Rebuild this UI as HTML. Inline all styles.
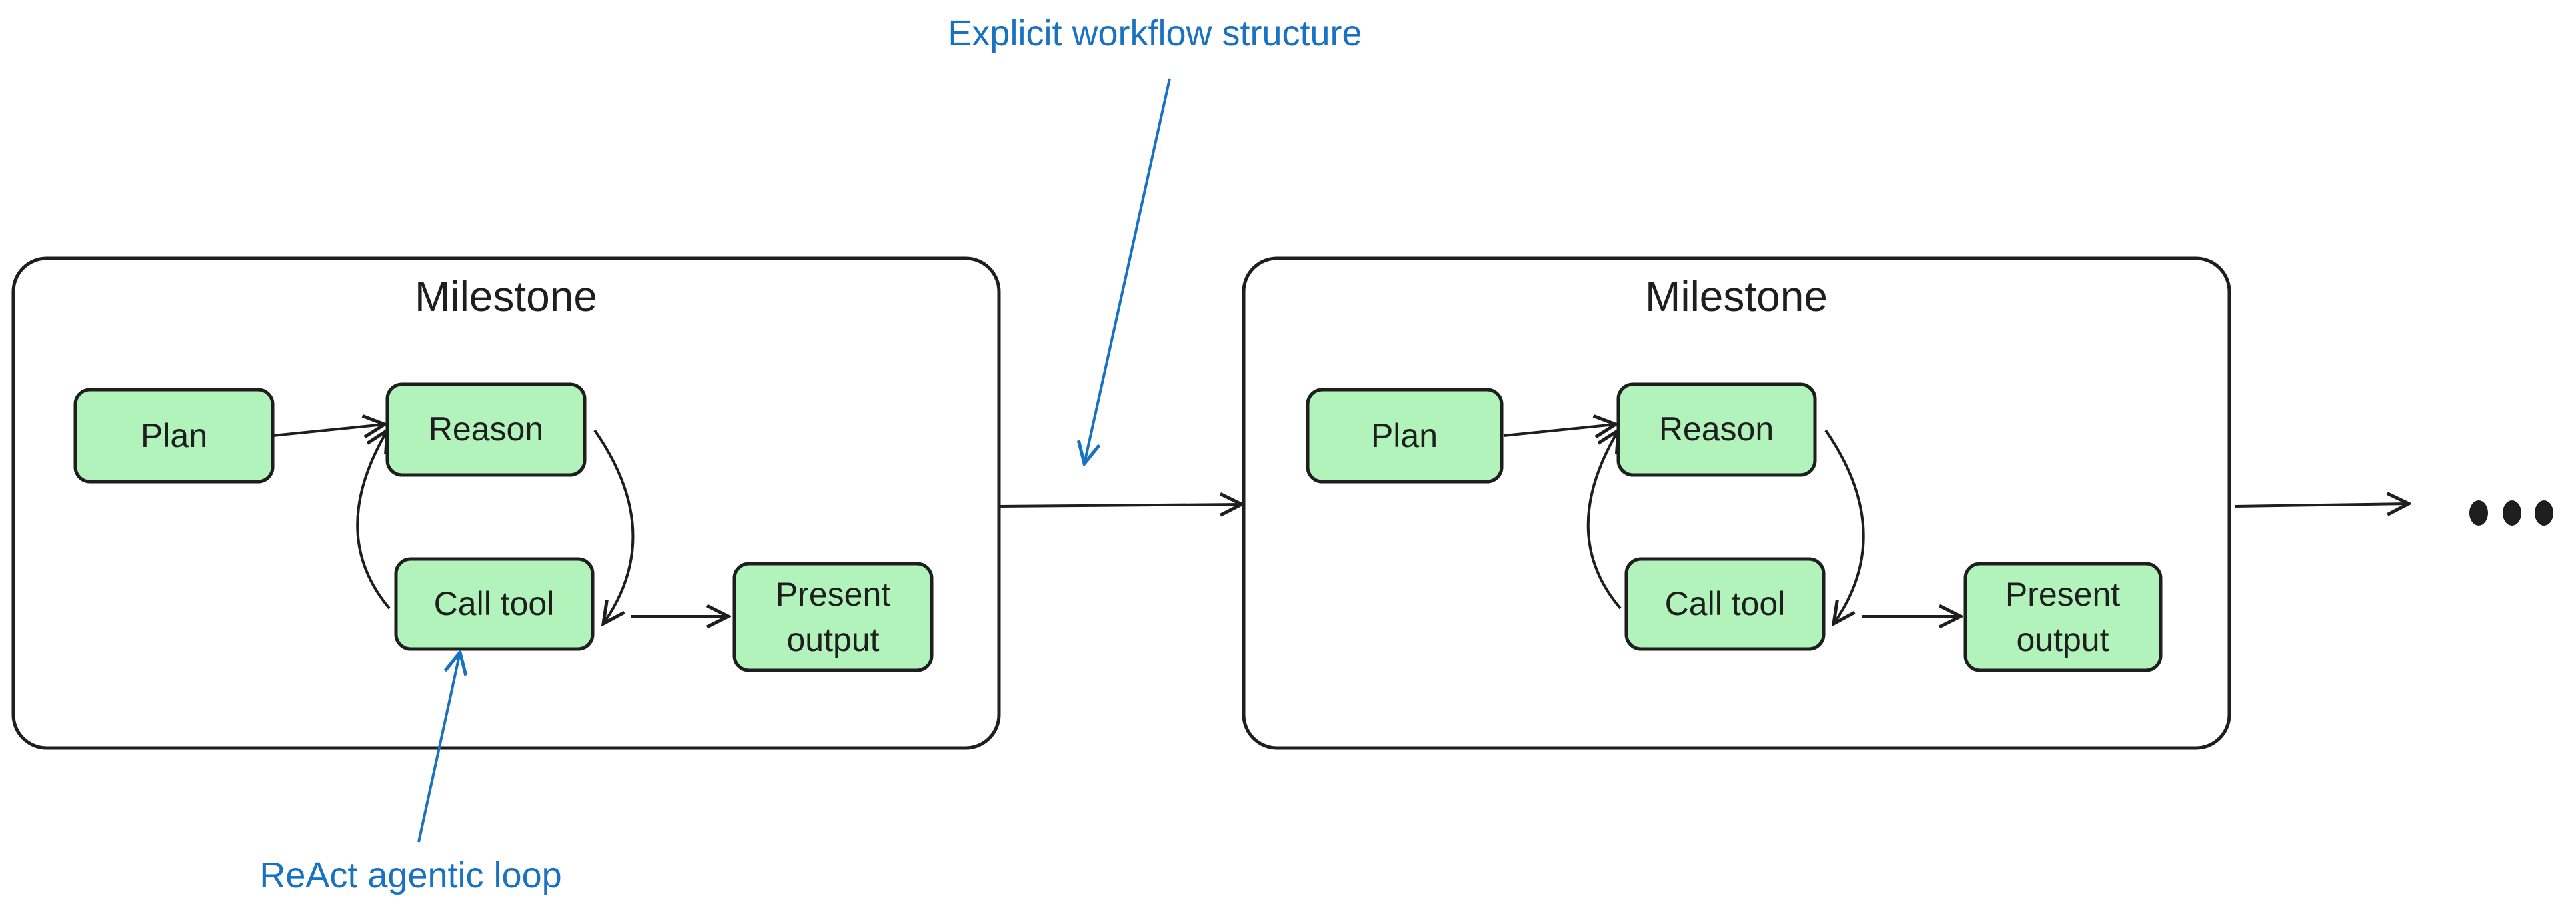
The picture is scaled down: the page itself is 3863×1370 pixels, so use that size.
<!DOCTYPE html>
<html><head><meta charset="utf-8"><style>
html,body{margin:0;padding:0;background:#fff;}
svg{display:block;}
text{font-family:"Liberation Sans",sans-serif;}
</style></head><body>
<svg width="3863" height="1370" viewBox="0 0 3863 1370" xmlns="http://www.w3.org/2000/svg">
<defs>
<marker id="ah" viewBox="0 0 20 20" refX="18" refY="10" markerWidth="40" markerHeight="40" markerUnits="userSpaceOnUse" orient="auto">
<path d="M2 2 L18 10 L2 18" fill="none" stroke="#1e1e1e" stroke-width="2.5"/>
</marker>
<marker id="ahb" viewBox="0 0 20 20" refX="18" refY="10" markerWidth="40" markerHeight="40" markerUnits="userSpaceOnUse" orient="auto">
<path d="M2 2 L18 10 L2 18" fill="none" stroke="#1971c2" stroke-width="2.5"/>
</marker>
</defs>
<g fill="none" stroke="#1e1e1e" stroke-width="5">
<rect x="20" y="387" width="1478" height="734" rx="50"/>
<rect x="1865" y="387" width="1478" height="734" rx="50"/>
</g>
<g fill="#b2f2bb" stroke="#1e1e1e" stroke-width="5">
<rect x="113" y="584" width="296" height="138" rx="22"/>
<rect x="581" y="576" width="296" height="136" rx="22"/>
<rect x="594" y="838" width="295" height="135" rx="22"/>
<rect x="1101" y="845" width="296" height="160" rx="22"/>
<rect x="1961" y="584" width="291" height="138" rx="22"/>
<rect x="2427" y="576" width="295" height="136" rx="22"/>
<rect x="2439" y="838" width="296" height="135" rx="22"/>
<rect x="2947" y="845" width="293" height="160" rx="22"/>
</g>
<g fill="#1e1e1e" font-size="64" text-anchor="middle">
<text x="759" y="466">Milestone</text>
<text x="2604" y="466">Milestone</text>
</g>
<g fill="#1e1e1e" font-size="50" text-anchor="middle">
<text x="261" y="670">Plan</text>
<text x="729" y="660">Reason</text>
<text x="741" y="922">Call tool</text>
<text x="1249" y="908">Present</text>
<text x="1249" y="976">output</text>
<text x="2106" y="670">Plan</text>
<text x="2574" y="660">Reason</text>
<text x="2587" y="922">Call tool</text>
<text x="3093" y="908">Present</text>
<text x="3093" y="976">output</text>
</g>
<g fill="none" stroke="#1e1e1e" stroke-width="4">
<path d="M409 653 L577 636" marker-end="url(#ah)"/>
<path d="M892 645 Q1000 800 905 935" marker-end="url(#ah)"/>
<path d="M584 912 Q490 800 581 645" marker-end="url(#ah)"/>
<path d="M946 924 L1092 924" marker-end="url(#ah)"/>
<path d="M2255 653 L2423 636" marker-end="url(#ah)"/>
<path d="M2738 645 Q2845 800 2750 935" marker-end="url(#ah)"/>
<path d="M2430 912 Q2335 800 2427 645" marker-end="url(#ah)"/>
<path d="M2792 924 L2940 924" marker-end="url(#ah)"/>
<path d="M1498 759 L1862 756" marker-end="url(#ah)"/>
<path d="M3351 759 L3612 755" marker-end="url(#ah)"/>
</g>
<g fill="#1e1e1e">
<ellipse cx="3717" cy="769" rx="14" ry="19"/>
<ellipse cx="3767" cy="769" rx="14" ry="19"/>
<ellipse cx="3815" cy="769" rx="14" ry="19"/>
</g>
<g fill="none" stroke="#1971c2" stroke-width="4">
<path d="M1754 118 L1626 695" marker-end="url(#ahb)"/>
<path d="M628 1262 L690 978" marker-end="url(#ahb)"/>
</g>
<g fill="#1971c2" font-size="54" text-anchor="middle">
<text x="1732" y="68">Explicit workflow structure</text>
<text x="616" y="1330">ReAct agentic loop</text>
</g>
</svg>
</body></html>
